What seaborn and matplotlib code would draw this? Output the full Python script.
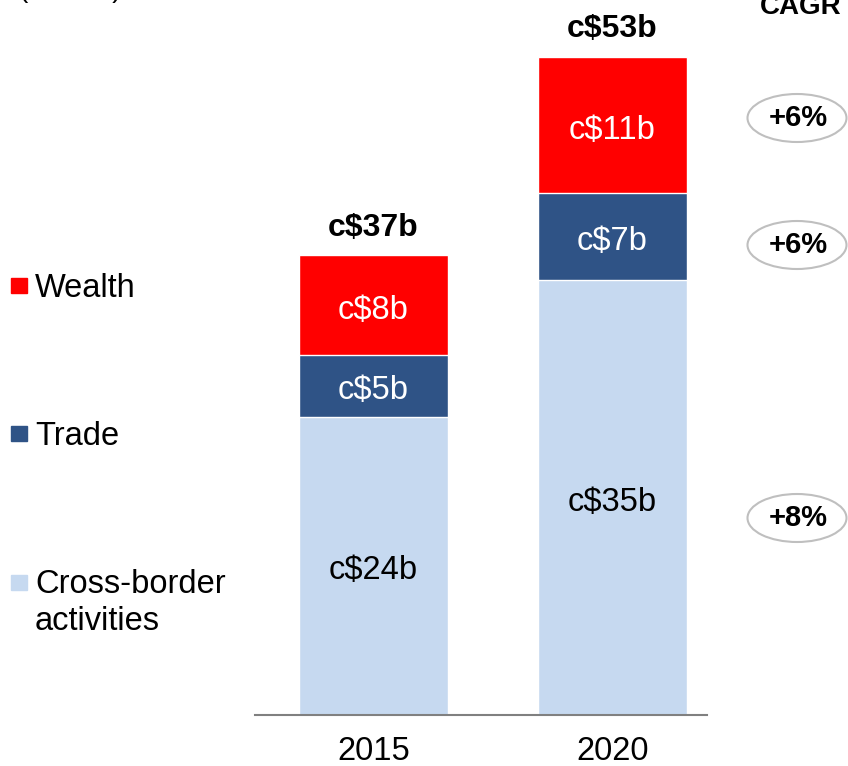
import numpy as np
import pandas as pd
import seaborn as sns
import matplotlib.pyplot as plt
from matplotlib.patches import Rectangle, Ellipse

# data
years = ["2015", "2020"]
cross_border = [24, 35]
trade = [5, 7]
wealth = [8, 11]
totals = [37, 53]
seg_labels_cross = ["c$24b", "c$35b"]
seg_labels_trade = ["c$5b", "c$7b"]
seg_labels_wealth = ["c$8b", "c$11b"]
total_labels = ["c$37b", "c$53b"]
cagr_labels = ["+6%", "+6%", "+8%"]  # wealth, trade, cross-border
legend_names = ["Wealth", "Trade", "Cross-border", "activities"]

c_cross = "#C6D9F0"
c_trade = "#2F5386"
c_wealth = "#FF0000"

sns.set_style("white")
plt.rcParams['font.family'] = ['Liberation Sans', 'DejaVu Sans']
plt.rcParams['text.color'] = 'black'

W, H = 848, 766
fig = plt.figure(figsize=(W / 100, H / 100), dpi=100)
ax = fig.add_axes([255 / W, 1 - 715 / H, 452 / W, 715 / H])

df = pd.DataFrame({"year": years, "cross": cross_border, "trade": trade, "wealth": wealth})
df["cum_trade"] = df["cross"] + df["trade"]
df["cum_wealth"] = df["cum_trade"] + df["wealth"]

bw = 149 / 239
sns.barplot(data=df, x="year", y="cum_wealth", color=c_wealth, saturation=1, width=bw, ax=ax)
sns.barplot(data=df, x="year", y="cum_trade", color=c_trade, saturation=1, width=bw, ax=ax)
sns.barplot(data=df, x="year", y="cross", color=c_cross, saturation=1, width=bw, ax=ax)

ax.set_xlim(-(373.5 - 255) / 239, 1 + (707 - 612.5) / 239)
ax.set_ylim(0, 715 / 12.42)

fs = 23.5
off = 0.4  # nudge labels down a little, va=center counts the descender
for i in range(len(years)):
    ax.text(i, cross_border[i] / 2 - off, seg_labels_cross[i], ha="center", va="center",
            fontsize=fs, color="black")
    ax.text(i, cross_border[i] + trade[i] / 2 - off, seg_labels_trade[i], ha="center",
            va="center", fontsize=fs, color="white")
    ax.text(i, cross_border[i] + trade[i] + wealth[i] / 2 - off, seg_labels_wealth[i],
            ha="center", va="center", fontsize=fs, color="white")
    ax.text(i, totals[i] + 2.2, total_labels[i], ha="center", va="center",
            fontsize=23, fontweight="bold", color="black")

for s in ["top", "right", "left"]:
    ax.spines[s].set_visible(False)
ax.spines["bottom"].set_color("#808080")
ax.spines["bottom"].set_linewidth(1.5)
ax.set_yticks([])
ax.set_xlabel("")
ax.set_ylabel("")
ax.tick_params(axis="x", length=0, labelsize=fs, pad=15, labelcolor="black")

# legend on the left
sq_y = [278, 426, 575]
leg_cols = [c_wealth, c_trade, c_cross]
for yy, col in zip(sq_y, leg_cols):
    fig.add_artist(Rectangle((11 / W, 1 - (yy + 15) / H), 16 / W, 15 / H,
                             transform=fig.transFigure, color=col))
txt_base = [297, 445, 593, 630]
for yy, name in zip(txt_base, legend_names):
    fig.text(35 / W, 1 - yy / H, name, ha="left", va="baseline", fontsize=fs)

# unit text and CAGR header, both run off the top edge like the original slide crop
fig.text(18 / W, 1 + 3 / H, "(US$bn)", ha="left", va="baseline", fontsize=20)
fig.text(760 / W, 1 - 14 / H, "CAGR", ha="left", va="baseline", fontsize=20, fontweight="bold")

# CAGR ellipses
cagr_y = [118, 245, 518]
for yy, lab in zip(cagr_y, cagr_labels):
    fig.add_artist(Ellipse((797 / W, 1 - yy / H), 99 / W, 48 / H, transform=fig.transFigure,
                           facecolor="white", edgecolor="#BFBFBF", linewidth=1.5))
    fig.text(798 / W, 1 - yy / H, lab, ha="center", va="center", fontsize=21, fontweight="bold")

fig.savefig("out.png", dpi=100)
